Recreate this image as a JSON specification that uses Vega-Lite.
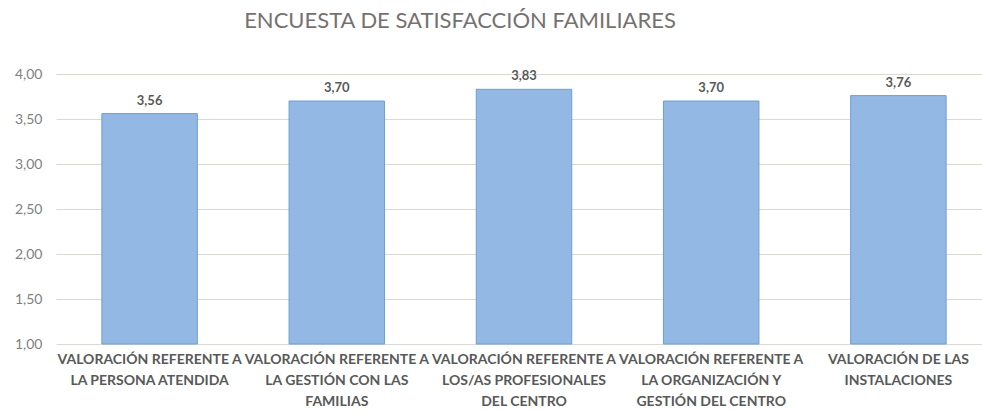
{
  "$schema": "https://vega.github.io/schema/vega-lite/v6.json",
  "width": 936,
  "height": 270,
  "autosize": {"type": "none"},
  "padding": {"left": 56, "top": 74, "right": 0, "bottom": 68},
  "background": "white",
  "title": {
    "text": "ENCUESTA DE SATISFACCIÓN FAMILIARES",
    "anchor": "middle",
    "frame": "group",
    "dx": -64,
    "offset": 34,
    "font": "Lato",
    "fontSize": 22,
    "fontWeight": "normal",
    "color": "#767171"
  },
  "config": {
    "view": {"stroke": null},
    "locale": {"number": {"decimal": ",", "thousands": ".", "grouping": [3], "currency": ["", " €"]}}
  },
  "data": {
    "values": [
      {"categoria": "VALORACIÓN REFERENTE A\nLA PERSONA ATENDIDA", "valor": 3.56},
      {"categoria": "VALORACIÓN REFERENTE A\nLA GESTIÓN CON LAS\nFAMILIAS", "valor": 3.70},
      {"categoria": "VALORACIÓN REFERENTE A\nLOS/AS PROFESIONALES\nDEL CENTRO", "valor": 3.83},
      {"categoria": "VALORACIÓN REFERENTE A\nLA ORGANIZACIÓN Y\nGESTIÓN DEL CENTRO", "valor": 3.70},
      {"categoria": "VALORACIÓN DE LAS\nINSTALACIONES", "valor": 3.76}
    ]
  },
  "encoding": {
    "x": {
      "field": "categoria",
      "type": "nominal",
      "sort": null,
      "title": null,
      "scale": {"paddingInner": 0.49, "paddingOuter": 0.245},
      "axis": {
        "labelAngle": 0,
        "labelExpr": "split(datum.label, '\\n')",
        "labelFont": "Lato",
        "labelFontSize": 14,
        "labelFontWeight": "bold",
        "labelColor": "#595959",
        "labelLineHeight": 21,
        "labelPadding": 8,
        "labelLimit": 0,
        "ticks": false,
        "domain": false
      }
    }
  },
  "layer": [
    {
      "mark": {"type": "bar", "fill": "#93b8e3", "stroke": "#6a9fd8", "strokeWidth": 1},
      "encoding": {
        "y": {
          "field": "valor",
          "type": "quantitative",
          "title": null,
          "scale": {"domain": [1, 4], "zero": false, "nice": false},
          "axis": {
            "values": [1, 1.5, 2, 2.5, 3, 3.5, 4],
            "format": ".2f",
            "labelFont": "Lato",
            "labelFontSize": 14,
            "labelColor": "#7f7f7f",
            "labelPadding": 14,
            "ticks": false,
            "domain": false,
            "gridColor": "#dcd8d4",
            "gridWidth": 1
          }
        },
        "y2": {"datum": 1}
      }
    },
    {
      "mark": {"type": "text", "dy": -13, "font": "Lato", "fontSize": 13, "fontWeight": "bold", "color": "#595959"},
      "encoding": {
        "y": {"field": "valor", "type": "quantitative"},
        "text": {"field": "valor", "type": "quantitative", "format": ".2f"}
      }
    }
  ]
}
